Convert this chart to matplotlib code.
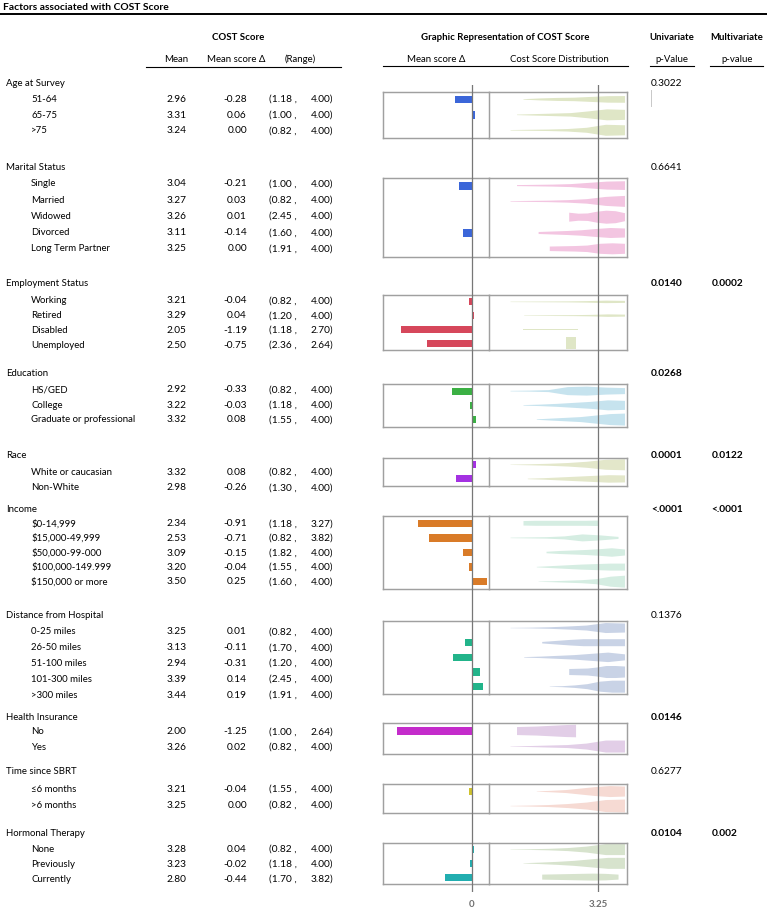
import numpy as np
import matplotlib
matplotlib.use("Agg")
import matplotlib.pyplot as plt
from matplotlib.patches import Polygon

plt.rcParams['font.family'] = ['Lato', 'DejaVu Sans']

W, H = 767, 910

groups = ["Age at Survey", "Marital Status", "Employment Status", "Education", "Race",
          "Income", "Distance from Hospital", "Health Insurance", "Time since SBRT",
          "Hormonal Therapy"]

row_labels = [
    ["51-64", "65-75", ">75"],
    ["Single", "Married", "Widowed", "Divorced", "Long Term Partner"],
    ["Working", "Retired", "Disabled", "Unemployed"],
    ["HS/GED", "College", "Graduate or professional"],
    ["White or caucasian", "Non-White"],
    ["$0-14,999", "$15,000-49,999", "$50,000-99-000", "$100,000-149.999", "$150,000 or more"],
    ["0-25 miles", "26-50 miles", "51-100 miles", "101-300 miles", ">300 miles"],
    ["No", "Yes"],
    ["\u22646 months", ">6 months"],
    ["None", "Previously", "Currently"],
]

means = [
    [2.96, 3.31, 3.24],
    [3.04, 3.27, 3.26, 3.11, 3.25],
    [3.21, 3.29, 2.05, 2.50],
    [2.92, 3.22, 3.32],
    [3.32, 2.98],
    [2.34, 2.53, 3.09, 3.20, 3.50],
    [3.25, 3.13, 2.94, 3.39, 3.44],
    [2.00, 3.26],
    [3.21, 3.25],
    [3.28, 3.23, 2.80],
]

deltas = [
    [-0.28, 0.06, 0.00],
    [-0.21, 0.03, 0.01, -0.14, 0.00],
    [-0.04, 0.04, -1.19, -0.75],
    [-0.33, -0.03, 0.08],
    [0.08, -0.26],
    [-0.91, -0.71, -0.15, -0.04, 0.25],
    [0.01, -0.11, -0.31, 0.14, 0.19],
    [-1.25, 0.02],
    [-0.04, 0.00],
    [0.04, -0.02, -0.44],
]

range_lo = [
    [1.18, 1.00, 0.82],
    [1.00, 0.82, 2.45, 1.60, 1.91],
    [0.82, 1.20, 1.18, 2.36],
    [0.82, 1.18, 1.55],
    [0.82, 1.30],
    [1.18, 0.82, 1.82, 1.55, 1.60],
    [0.82, 1.70, 1.20, 2.45, 1.91],
    [1.00, 0.82],
    [1.55, 0.82],
    [0.82, 1.18, 1.70],
]

range_hi = [
    [4.00, 4.00, 4.00],
    [4.00, 4.00, 4.00, 4.00, 4.00],
    [4.00, 4.00, 2.70, 2.64],
    [4.00, 4.00, 4.00],
    [4.00, 4.00],
    [3.27, 3.82, 4.00, 4.00, 4.00],
    [4.00, 4.00, 4.00, 4.00, 4.00],
    [2.64, 4.00],
    [4.00, 4.00],
    [4.00, 4.00, 3.82],
]

p_uni = ["0.3022", "0.6641", "0.0140", "0.0268", "0.0001", "<.0001", "0.1376",
         "0.0146", "0.6277", "0.0104"]
p_multi = ["", "", "0.0002", "", "0.0122", "<.0001", "", "", "", "0.002"]

# violin thickness (px) at 7 even steps from low to high end of the range
violin_w = [
    [[0.5, 2, 3, 3.5, 5, 6.5, 6.7], [0.5, 1.5, 2.5, 3.5, 7, 11, 10], [0.5, 1, 1.5, 2.5, 5, 11, 10]],
    [[1, 1.5, 2, 3, 5.5, 8, 8.7], [0.5, 1, 1.5, 2.5, 4.5, 9, 11], [9, 7, 7.5, 11, 13, 12, 8],
     [2, 3, 4, 5.5, 8, 10, 9], [4.5, 5, 5.5, 6.5, 10, 11, 10]],
    [[0.4, 0.6, 0.8, 1, 1.5, 2.5, 2], [0.4, 0.6, 0.8, 1, 1.5, 2.5, 2],
     [1.5, 1.5, 1.5, 1.5, 1.5, 1.5, 1.5], [12, 12, 12, 12, 12, 12, 12]],
    [[0.5, 1, 2, 8, 9, 7, 6], [0.5, 1.5, 3, 5, 7, 10, 9], [0.5, 2, 3.5, 5, 8, 11, 12]],
    [[0.3, 1, 2, 3.5, 6, 10, 11], [0.5, 1.5, 3, 4.5, 6, 7.5, 7]],
    [[4.5, 5, 5, 5, 5, 5, 5.5], [0.5, 1, 1.5, 3, 7, 5, 2], [1.5, 3, 4, 5, 6.5, 8.5, 6],
     [0.5, 2, 3.5, 5, 6, 7, 7], [0.3, 1, 2, 3, 5, 10, 12]],
    [[0.3, 0.7, 1.5, 3, 5, 10, 9], [1.5, 3.5, 5.5, 7, 7, 7, 7], [0.5, 1.5, 3, 4.5, 7, 9.5, 6],
     [6, 6.5, 7, 9, 12, 12, 11], [0.3, 1, 2.5, 5, 10, 12, 12]],
    [[8, 8.5, 9, 10, 11, 12, 12.5], [0.3, 1, 2, 3, 6, 12, 12]],
    [[0.3, 1.5, 3, 6, 9, 11, 10], [0.3, 1, 2, 4, 7, 12, 13]],
    [[0.3, 0.7, 1.5, 3, 6, 11, 11], [0.3, 1.5, 3, 5, 8, 11, 11], [5, 5.5, 6, 6.5, 7, 6.5, 5]],
]

bar_colors = ["#3b66d9", "#3b66d9", "#d6475b", "#3bb044", "#a431e2", "#d97b28",
              "#22b48a", "#c42ccb", "#cfc22c", "#22aeb0"]
dist_colors = ["#dfe6c6", "#f3c5e1", "#dfe6c6", "#c6e3ee", "#e3e7ca", "#d5ede2",
               "#c9d3e6", "#e2cee7", "#f6dad3", "#d7e3cd"]

# ---- layout (pixels) ----
hdr_y = [83.5, 167, 284, 374, 455, 509, 615, 717, 771, 834]
row_y0 = [99.3, 184, 301, 390, 472, 524, 632, 732, 789, 849.3]
row_dy = [15.7, 16.2, 14.7, 15.0, 16.0, 14.5, 15.75, 15.0, 16.0, 15.0]
box_top = [91.7, 177.7, 295, 384, 457.7, 516, 620.7, 723.3, 784.3, 842.7]
box_bot = [138, 256.7, 350, 426.7, 486, 589, 694, 754.3, 813.3, 884]

BAR_L, DIV_X, BOX_R = 382.7, 489.3, 626.7
BAR_XLIM = (-1.495, 0.296)
DIST_XLIM = (0.23, 4.047)
FS = 6.9
FS_NUM = 7.3

fig = plt.figure(figsize=(W / 100, H / 100), dpi=100)


def ftext(x, y, s, **kw):
    kw.setdefault('fontsize', FS)
    kw.setdefault('va', 'center')
    fig.text(x / W, 1 - y / H, s, parse_math=False, **kw)


def fline(x0, x1, y0, y1, **kw):
    fig.add_artist(plt.Line2D([x0 / W, x1 / W], [1 - y0 / H, 1 - y1 / H], **kw))


def px_axes(x0, x1, y0, y1):
    return fig.add_axes([x0 / W, 1 - y1 / H, (x1 - x0) / W, (y1 - y0) / H])


# title and headers
ftext(3, 7, "Factors associated with COST Score", fontweight='bold', fontsize=7.4)
fline(0, W, 14, 14, color='black', lw=1.4)

ftext(238, 37.5, "COST Score", fontweight='bold', ha='center')
ftext(176.5, 59.5, "Mean", ha='center')
ftext(236.5, 59.5, "Mean score \u0394", ha='center')
ftext(300.5, 59.5, "(Range)", ha='center')
fline(145.7, 340.7, 66.7, 66.7, color='black', lw=0.8)

ftext(505, 38, "Graphic Representation of COST Score", fontweight='bold', ha='center')
ftext(435.7, 59.5, "Mean score \u0394", ha='center')
ftext(559.3, 59.5, "Cost Score Distribution", ha='center')
fline(382.7, 628.3, 66, 66, color='black', lw=0.8)

ftext(671.7, 38, "Univariate", fontweight='bold', ha='center')
ftext(671.7, 59.5, "p-Value", ha='center')
fline(650, 694, 66, 66, color='black', lw=0.8)
ftext(736.7, 38, "Multivariate", fontweight='bold', ha='center')
ftext(736.7, 59.5, "p-value", ha='center')
fline(710, 763, 66, 66, color='black', lw=0.8)

fline(650.7, 650.7, 90, 106, color='#c8c8c8', lw=0.7)

# table text
for g, name in enumerate(groups):
    ftext(6, hdr_y[g], name)
    uni_sig = not p_uni[g].startswith("0.") or float(p_uni[g]) < 0.05
    ftext(651, hdr_y[g], p_uni[g], fontsize=FS_NUM,
          fontweight='bold' if uni_sig else 'normal')
    if p_multi[g]:
        ftext(711.5, hdr_y[g], p_multi[g], fontsize=FS_NUM, fontweight='bold')
    for i, lab in enumerate(row_labels[g]):
        y = row_y0[g] + i * row_dy[g]
        ftext(31, y, lab)
        ftext(176.5, y, f"{means[g][i]:.2f}", ha='center', fontsize=FS_NUM)
        ftext(247, y, f"{deltas[g][i]:.2f}", ha='right', fontsize=FS_NUM)
        ftext(269, y, f"({range_lo[g][i]:.2f} ,", fontsize=FS_NUM)
        ftext(333, y, f"{range_hi[g][i]:.2f})", ha='right', fontsize=FS_NUM)

# graphic panels
for g in range(len(groups)):
    n = len(row_labels[g])
    pitch = (box_bot[g] - box_top[g]) / n
    ax_b = px_axes(BAR_L, DIV_X, box_top[g], box_bot[g])
    ax_d = px_axes(DIV_X, BOX_R, box_top[g], box_bot[g])
    rows = np.arange(n)
    ax_b.barh(rows, deltas[g], height=0.5, color=bar_colors[g], left=0)
    for i in rows:
        xs = np.linspace(range_lo[g][i], range_hi[g][i], 7)
        half = np.array(violin_w[g][i]) / pitch / 2
        pts = np.concatenate([np.column_stack([xs, i - half]),
                              np.column_stack([xs[::-1], (i + half)[::-1]])])
        ax_d.add_patch(Polygon(pts, closed=True, facecolor=dist_colors[g],
                               edgecolor='none'))
    ax_b.set_xlim(*BAR_XLIM)
    ax_d.set_xlim(*DIST_XLIM)
    for ax in (ax_b, ax_d):
        ax.set_ylim(n - 0.5, -0.5)
        ax.set_xticks([])
        ax.set_yticks([])
        for sp in ax.spines.values():
            sp.set_color('#a0a0a0')
            sp.set_linewidth(1.05)
    ax_b.spines['right'].set_visible(False)

# reference lines at 0 and 3.25 running through all panels
ov_b = px_axes(BAR_L, DIV_X, 85, 892)
ov_b.set_xlim(*BAR_XLIM)
ov_b.axvline(0, color='#777777', lw=0.9)
ov_b.set_xticks([0])
ov_b.set_xticklabels(["0"])
ov_d = px_axes(DIV_X, BOX_R, 85, 892)
ov_d.set_xlim(*DIST_XLIM)
ov_d.axvline(3.25, color='#777777', lw=0.9)
ov_d.set_xticks([3.25])
ov_d.set_xticklabels(["3.25"])
for ax in (ov_b, ov_d):
    ax.patch.set_visible(False)
    ax.set_yticks([])
    for sp in ax.spines.values():
        sp.set_visible(False)
    ax.tick_params(axis='x', length=0, pad=5.5, labelsize=7, labelcolor='#707070')
    for t in ax.get_xticklabels():
        t.set_fontweight('bold')

fig.savefig("out.png", dpi=100)
